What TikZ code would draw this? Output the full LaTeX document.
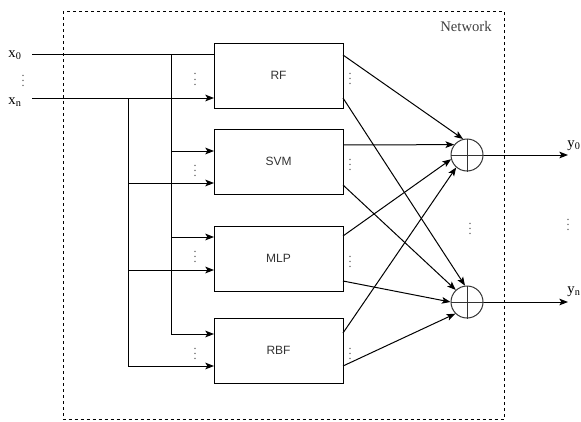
\documentclass[tikz,border=0pt]{standalone}
\usepackage{fontspec}
\setmainfont{Liberation Serif}
\newfontfamily\arialfont{Liberation Sans}
\usetikzlibrary{arrows.meta}
\begin{document}
\begin{tikzpicture}[x=0.75pt,y=-0.75pt,
  line width=0.75pt,
  arr/.style={-{Stealth[length=6.5pt,width=5pt,inset=1.5pt]}},
  model/.style={draw, minimum width=96.75pt, minimum height=48.75pt, inner sep=0pt,
    font=\arialfont\fontsize{9}{10}\selectfont, text=black!80},
  sum/.style={draw=black!80, circle, minimum size=24pt, inner sep=0pt},
  lbl/.style={font=\fontsize{11}{12}\selectfont, inner sep=0pt},
  dots/.style={inner sep=0pt, text=black!70, font=\fontsize{9}{10}\selectfont},
  netbox/.style={draw, dash pattern=on 2.25pt off 2.25pt}
]
\useasboundingbox (0,0) rectangle (581,421);

% network boundary
\draw[netbox] (63,11) rectangle (504,419.5);
\node[lbl, text=black!75] (netlbl) at (466,26) {Network};

% models
\node[model] (rf)  at (278.5,75.5)  {RF};
\node[model] (svm) at (278.5,161.5) {SVM};
\node[model] (mlp) at (278.5,258.5) {MLP};
\node[model] (rbf) at (278.5,350.5) {RBF};

% summation nodes
\node[sum] (s0) at (467,155) {};
\node[sum] (sn) at (467,302) {};
\draw[black!80] (s0.north) -- (s0.south) (s0.west) -- (s0.east);
\draw[black!80] (sn.north) -- (sn.south) (sn.west) -- (sn.east);

% input labels
\node[lbl] (x0) at (15,55) {x\textsubscript{0}};
\node[lbl] (xn) at (15,102) {x\textsubscript{n}};
\node[dots] (dx) at (23,77) {$\vdots$};
\coordinate (x0s) at (32,54);
\coordinate (xns) at (32,98);

% input ports
\coordinate (rf-a)  at (214,54);
\coordinate (rf-b)  at (214,98);
\coordinate (svm-a) at (214,151);
\coordinate (svm-b) at (214,183);
\coordinate (mlp-a) at (214,237);
\coordinate (mlp-b) at (214,270);
\coordinate (rbf-a) at (214,334);
\coordinate (rbf-b) at (214,366);
\coordinate (t0) at (171,54);
\coordinate (tn) at (128,98);

\draw (x0s) -- (rf-a);
\draw[arr] (xns) -- (rf-b);
\draw[arr] (t0) |- (rbf-a);
\draw[arr] (t0 |- svm-a) -- (svm-a);
\draw[arr] (t0 |- mlp-a) -- (mlp-a);
\draw[arr] (tn) |- (rbf-b);
\draw[arr] (tn |- svm-b) -- (svm-b);
\draw[arr] (tn |- mlp-b) -- (mlp-b);

% left dots
\node[dots] (dl1) at (195,75.5) {$\vdots$};
\node[dots] (dl2) at (195,167) {$\vdots$};
\node[dots] (dl3) at (195,253) {$\vdots$};
\node[dots] (dl4) at (195,350) {$\vdots$};
% right dots
\node[dots] (dr1) at (350,75) {$\vdots$};
\node[dots] (dr2) at (350,161) {$\vdots$};
\node[dots] (dr3) at (350,258) {$\vdots$};
\node[dots] (dr4) at (350,350) {$\vdots$};

% output ports
\coordinate (rf-o1)  at (343,55);
\coordinate (rf-o2)  at (343,98);
\coordinate (svm-o1) at (343,145);
\coordinate (svm-o2) at (343,185);
\coordinate (mlp-o1) at (343,236);
\coordinate (mlp-o2) at (343,281);
\coordinate (rbf-o1) at (343,333);
\coordinate (rbf-o2) at (343,366);

\draw[arr] (rf-o1)  -- (s0.104);
\draw[arr] (svm-o1) -- (s0.141);
\draw[arr] (mlp-o1) -- (s0.195);
\draw[arr] (rbf-o1) -- (s0.229);
\draw[arr] (rf-o2)  -- (sn.97);
\draw[arr] (svm-o2) -- (sn.133);
\draw[arr] (mlp-o2) -- (sn.180);
\draw[arr] (rbf-o2) -- (sn.225);

% outputs
\coordinate (y0e) at (568,155);
\coordinate (yne) at (568,302);
\draw[arr] (s0.east) -- (y0e);
\draw[arr] (sn.east) -- (yne);
\node[lbl] (y0) at (574,146) {y\textsubscript{0}};
\node[lbl] (yn) at (574,292) {y\textsubscript{n}};
\node[dots] (dm) at (470,225) {$\vdots$};
\node[dots] (dy) at (568,221) {$\vdots$};
\end{tikzpicture}
\end{document}
